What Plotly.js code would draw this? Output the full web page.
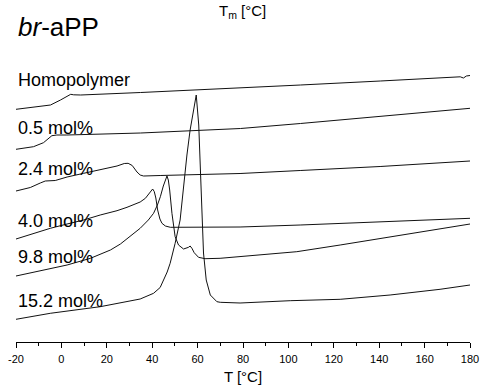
<!DOCTYPE html>
<html>
<head>
<meta charset="utf-8">
<script src="https://cdn.plot.ly/plotly-3.0.1.min.js"></script>
<style>html,body{margin:0;padding:0;background:#fff;}#chart{width:481px;height:387px;}</style>
</head>
<body>
<div id="chart"></div>
<script>
// Temperature (°C) and stacked heat-flow signal (arbitrary units, offset per sample)
const homoT = [-20, -12.4, -4.8, -0.4, 2.5, 4.1, 5.4, 8.5, 34.9, 70.1, 105.3, 140.5, 166.9, 175.7, 177.1, 178.4, 180];
const homoY = [232.7, 234.5, 237, 242, 245.3, 247.7, 247.2, 247, 249.5, 253, 257, 261, 264.5, 265.2, 264, 266, 266.5];

const m05T = [-20, -12.3, -7.9, -5.8, -4.2, -2.0, 2.4, 34.9, 70.1, 78.9, 105.3, 140.5, 180];
const m05Y = [192.7, 195.3, 199.3, 203.5, 206.3, 207, 207, 209, 212.7, 213.5, 218.5, 225.5, 233.7];

const m24T = [-20, -13.7, -9.3, -7.1, -2.7, 2.5, 9.8, 17.1, 24.5, 27.7, 29.4, 31.2, 33.3, 34.7, 36.2, 43.5, 69.9, 78.7, 105.2, 140.4, 180];
const m24Y = [151, 154.5, 159, 161, 161.5, 165, 168.7, 172, 176, 178.5, 178.7, 176.5, 170, 167, 166, 166.5, 167.5, 168.5, 171.5, 175.5, 181];

const m40T = [-20, -12.3, -4.9, 2.5, 9.8, 17.1, 24.5, 28.9, 31.8, 34.7, 37.0, 38.3, 39.1, 40.2, 40.9, 41.6, 42.4, 43.4, 44.3, 45.8, 48.0, 70.0, 78.7, 105.2, 140.4, 180];
const m40Y = [103, 108.7, 113.7, 118, 122, 127, 131.3, 134.7, 137, 140, 143.7, 147.5, 151, 153, 150.5, 144, 132, 123, 118.7, 116, 114.7, 114.7, 115, 117, 120, 123.7];

const m98T = [-20, -9.3, 2.5, 12.8, 21.6, 26.0, 30.4, 34.7, 38.3, 40.6, 42.3, 43.6, 44.9, 45.8, 46.5, 47.1, 47.7, 48.7, 50.1, 51.6, 53.8, 56.0, 56.7, 57.5, 58.5, 60.4, 63.3, 69.9, 78.7, 103.7, 122.8, 149.2, 180];
const m98Y = [66, 71, 77, 83.7, 92, 98, 105.5, 113.7, 122, 128.7, 137, 145.3, 156, 162, 166, 162, 152, 128.7, 105.3, 97, 93, 94.7, 96, 93.7, 89.3, 84.7, 83.3, 83.7, 85.3, 90.3, 97, 107, 118];

const m152T = [-20, -4.9, 17.1, 34.7, 40.6, 43.5, 45.0, 46.6, 47.9, 50.1, 52.3, 53.8, 54.5, 55.3, 56.7, 58.1, 59.4, 60.5, 60.9, 61.4, 61.9, 62.6, 63.8, 65.6, 68.5, 70.0, 78.7, 100.8, 122.8, 144.8, 166.8, 180];
const m152Y = [22.7, 28.7, 35.3, 43, 48.7, 54.5, 62, 70, 78.7, 98.7, 122, 157, 170, 187, 212, 230, 247, 217, 192, 157, 132, 89, 62, 47, 40.3, 39.7, 39, 41.3, 42.7, 47, 52.7, 57];

const sampleLabels = ["Homopolymer", "0.5 mol%", "2.4 mol%", "4.0 mol%", "9.8 mol%", "15.2 mol%"];
const labelY = [262, 214, 173.2, 121.5, 85, 41];
const xTicks = [-20, 0, 20, 40, 60, 80, 100, 120, 140, 160, 180];

const series = [[homoT, homoY], [m05T, m05Y], [m24T, m24Y], [m40T, m40Y], [m98T, m98Y], [m152T, m152Y]];
const traces = series.map((s, i) => ({
  x: s[0], y: s[1], type: 'scatter', mode: 'lines', name: sampleLabels[i],
  line: {color: '#111', width: 1}, hoverinfo: 'skip'
}));

const font = 'Liberation Sans, Arial, sans-serif';
const annotations = sampleLabels.map((t, i) => ({
  text: t, xref: 'paper', yref: 'y', x: 0, y: labelY[i], xanchor: 'left', yanchor: 'middle',
  showarrow: false, font: {family: font, size: 18, color: '#000'}
}));
annotations.push({
  text: '<i>br</i>-aPP', xref: 'paper', yref: 'y', x: 0, y: 315.5, xanchor: 'left', yanchor: 'middle',
  showarrow: false, font: {family: font, size: 26, color: '#000'}
});
annotations.push({
  text: 'T<sub>m</sub> [°C]', xref: 'paper', yref: 'y', x: 0.4995, y: 331, xanchor: 'center', yanchor: 'middle',
  showarrow: false, font: {family: font, size: 15, color: '#000'}
});

const layout = {
  width: 481, height: 387,
  margin: {l: 16, r: 11, t: 0, b: 45},
  paper_bgcolor: '#fff', plot_bgcolor: '#fff',
  showlegend: false,
  font: {family: font, color: '#000'},
  xaxis: {
    range: [-20, 180], tickvals: xTicks, ticktext: xTicks.map(String),
    ticks: 'outside', ticklen: 5, tickwidth: 1, tickcolor: '#000',
    minor: {dtick: 10, ticks: 'outside', ticklen: 3, tickwidth: 1, tickcolor: '#000'},
    showline: true, linecolor: '#000', linewidth: 1, showgrid: false, zeroline: false,
    ticklabelstandoff: 2,
    tickfont: {family: font, size: 11, color: '#000'},
    title: {text: 'T [°C]', font: {family: font, size: 15, color: '#000'}, standoff: 7}
  },
  yaxis: {range: [0, 342], visible: false, showgrid: false, zeroline: false},
  annotations: annotations
};

Plotly.newPlot('chart', traces, layout, {staticPlot: true, displayModeBar: false});
</script>
</body>
</html>
